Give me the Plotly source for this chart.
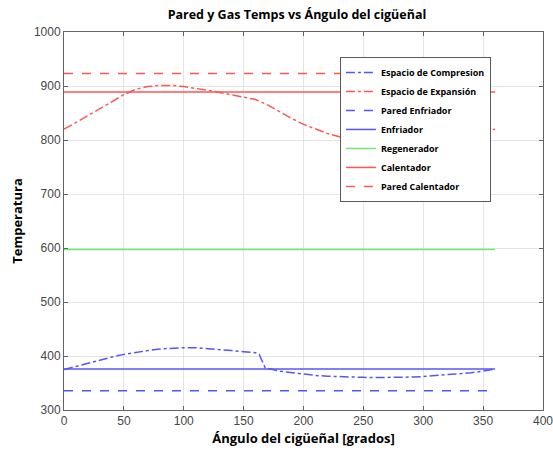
import plotly.graph_objects as go

angle = list(range(0, 361, 10))
angle_comp = [0, 10, 20, 30, 40, 50, 60, 70, 80, 90, 100, 110, 120, 130, 140, 150, 160, 163, 168,
              180, 190, 200, 210, 220, 230, 240, 250, 260, 270, 280, 290, 300, 310, 320, 330, 340, 350, 360]
t_comp = [375, 381, 387, 393, 398, 403, 407, 410, 413, 414.5, 415.5, 415.5, 414, 412, 410, 408, 406, 403, 378,
          372, 369, 366, 364, 362.5, 361.5, 361, 360.5, 360, 360, 360.5, 361, 362, 363.5, 365, 367, 369, 372, 376]
t_exp = [820, 832, 845, 858, 871, 884, 894, 899, 901, 901, 899, 896, 892, 888, 884, 880, 875, 865, 852,
         840, 829, 820, 812, 806, 802, 799, 798, 798, 799, 801, 803, 806, 809, 812, 815, 818, 820]
t_pared_enfriador = 335.5
t_enfriador = 376
t_regenerador = 597
t_calentador = 889
t_pared_calentador = 923

names = ["Espacio de Compresion", "Espacio de Expansión", "Pared Enfriador", "Enfriador",
         "Regenerador", "Calentador", "Pared Calentador"]

x_flat = [0, 360]
blue = "rgb(85,85,255)"
red = "rgb(255,85,85)"
green = "rgb(110,235,110)"

fig = go.Figure()
fig.add_trace(go.Scatter(x=angle_comp, y=t_comp, mode="lines", name="<b>" + names[0] + "</b>",
                         line=dict(color=blue, width=1.5, dash="dashdot")))
fig.add_trace(go.Scatter(x=angle, y=t_exp, mode="lines", name="<b>" + names[1] + "</b>",
                         line=dict(color=red, width=1.5, dash="dashdot")))
fig.add_trace(go.Scatter(x=x_flat, y=[t_pared_enfriador]*2, mode="lines", name="<b>" + names[2] + "</b>",
                         line=dict(color=blue, width=1.5, dash="dash")))
fig.add_trace(go.Scatter(x=x_flat, y=[t_enfriador]*2, mode="lines", name="<b>" + names[3] + "</b>",
                         line=dict(color=blue, width=1.5)))
fig.add_trace(go.Scatter(x=x_flat, y=[t_regenerador]*2, mode="lines", name="<b>" + names[4] + "</b>",
                         line=dict(color=green, width=1.5)))
fig.add_trace(go.Scatter(x=x_flat, y=[t_calentador]*2, mode="lines", name="<b>" + names[5] + "</b>",
                         line=dict(color=red, width=1.5)))
fig.add_trace(go.Scatter(x=x_flat, y=[t_pared_calentador]*2, mode="lines", name="<b>" + names[6] + "</b>",
                         line=dict(color=red, width=1.5, dash="dash")))

axis_common = dict(showgrid=True, gridcolor="rgb(228,228,228)", gridwidth=1,
                   showline=True, linecolor="rgb(100,100,100)", linewidth=1, mirror="ticks",
                   ticks="inside", ticklen=4, tickcolor="rgb(100,100,100)", zeroline=False,
                   ticklabeloverflow="allow", automargin=False,
                   tickfont=dict(family="Liberation Sans", size=12, color="rgb(70,70,70)"))

fig.update_layout(
    width=553, height=458,
    margin=dict(l=64, r=10, t=32, b=48),
    paper_bgcolor="white", plot_bgcolor="white",
    title=dict(text="<b>Pared y Gas Temps vs Ángulo del cigüeñal</b>", x=0.537, xanchor="center",
               y=0.967, yanchor="middle", font=dict(family="Open Sans", size=12.5, color="black")),
    xaxis=dict(range=[0, 400], tickvals=[0, 50, 100, 150, 200, 250, 300, 350, 400],
               title=dict(text="<b>Ángulo del cigüeñal [grados]</b>", standoff=6,
                          font=dict(family="Open Sans", size=13, color="black")), **axis_common),
    yaxis=dict(range=[300, 1000], tickvals=[300, 400, 500, 600, 700, 800, 900, 1000],
               title=dict(text="<b>Temperatura</b>", standoff=8,
                          font=dict(family="Open Sans", size=13, color="black")), **axis_common),
    legend=dict(x=0.576, y=0.934, xanchor="left", yanchor="top", bgcolor="white",
                bordercolor="rgb(90,90,90)", borderwidth=1,
                font=dict(family="Open Sans", size=9, color="black"), tracegroupgap=0),
    showlegend=True,
)

fig.write_html("out.html")
